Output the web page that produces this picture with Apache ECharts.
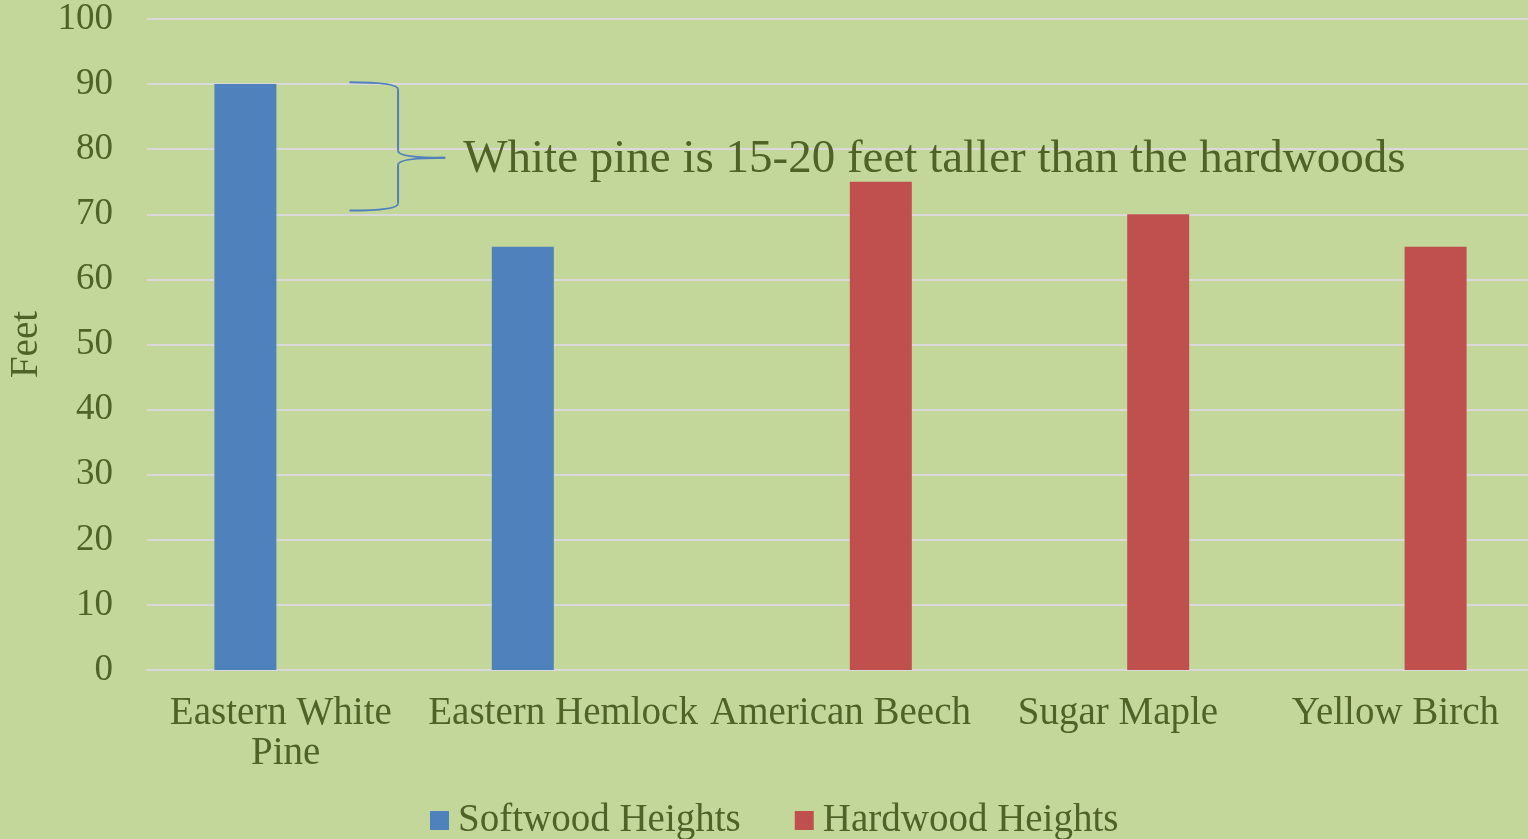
<!DOCTYPE html>
<html>
<head>
<meta charset="utf-8">
<script src="https://cdn.jsdelivr.net/npm/echarts@6/dist/echarts.min.js"></script>
<style>
  html, body { margin: 0; padding: 0; background: #c4d79b; }
  #main { width: 1528px; height: 839px; }
</style>
</head>
<body>
<div id="main"></div>
<script>
var categories = ['Eastern White Pine', 'Eastern Hemlock', 'American Beech', 'Sugar Maple', 'Yellow Birch'];
var softwood = [90, 65, null, null, null];
var hardwood = [null, null, 75, 70, 65];
var yTicks = [0, 10, 20, 30, 40, 50, 60, 70, 80, 90, 100];
var note = 'White pine is 15-20 feet taller than the hardwoods';

var textColor = '#4f6228';
var font = 'Liberation Serif';

var myChart = echarts.init(document.getElementById('main'));

var option = {
    backgroundColor: '#c4d79b',
    animation: false,
    textStyle: { fontFamily: font, color: textColor },
    grid: { left: 147, width: 1387, top: 19, bottom: 169, outerBoundsMode: 'none' },
    legend: {
        data: ['Softwood Heights', 'Hardwood Heights'],
        top: 796,
        left: 425,
        icon: 'rect',
        itemWidth: 19,
        itemHeight: 19,
        itemGap: 54,
        textStyle: { fontFamily: font, fontSize: 39, color: textColor, padding: [0, 0, 0, 4] }
    },
    xAxis: {
        type: 'category',
        data: categories,
        axisTick: { show: false },
        axisLine: { lineStyle: { color: '#d9d9d9', width: 2 } },
        axisLabel: {
            fontFamily: font, fontSize: 39, color: textColor,
            margin: 24, lineHeight: 40,
            width: 272, overflow: 'break', interval: 0
        }
    },
    yAxis: {
        type: 'value',
        min: yTicks[0],
        max: yTicks[yTicks.length - 1],
        interval: 10,
        name: 'Feet',
        nameLocation: 'middle',
        nameGap: 98,
        nameTextStyle: { fontFamily: font, fontSize: 39, color: textColor },
        axisLine: { show: false },
        axisTick: { show: false },
        axisLabel: { fontFamily: font, fontSize: 37, color: textColor, margin: 34 },
        splitLine: { lineStyle: { color: '#d9d9d9', width: 2 } }
    },
    series: [
        {
            name: 'Softwood Heights',
            type: 'bar',
            data: softwood,
            barWidth: 62,
            barGap: '30%',
            itemStyle: { color: '#4f81bd' }
        },
        {
            name: 'Hardwood Heights',
            type: 'bar',
            data: hardwood,
            barWidth: 62,
            itemStyle: { color: '#c0504d' }
        }
    ]
};

myChart.setOption(option);

// brace annotation next to the white pine bar
var c0 = myChart.convertToPixel({ gridIndex: 0 }, [0, 90]);
var c1 = myChart.convertToPixel({ gridIndex: 0 }, [1, 90]);
var step = c1[0] - c0[0];
var yTop = myChart.convertToPixel({ yAxisIndex: 0 }, 90.3);
var yBot = myChart.convertToPixel({ yAxisIndex: 0 }, 70.6);
var yTip = myChart.convertToPixel({ yAxisIndex: 0 }, 78.7);
var xL = c0[0] + 0.23 * step;
var xV = c0[0] + 0.405 * step;
var xT = c0[0] + 0.575 * step;
var r = 7;

var braceStyle = { stroke: '#4f81bd', lineWidth: 2, fill: null };

function curve(x1, y1, cx, cy, x2, y2) {
    return { type: 'bezierCurve', shape: { x1: x1, y1: y1, cpx1: cx, cpy1: cy, x2: x2, y2: y2 }, style: braceStyle };
}
function seg(x1, y1, x2, y2) {
    return { type: 'line', shape: { x1: x1, y1: y1, x2: x2, y2: y2 }, style: braceStyle };
}

myChart.setOption({
    graphic: [
        curve(xL, yTop, xV, yTop, xV, yTop + r),
        seg(xV, yTop + r, xV, yTip - r),
        curve(xV, yTip - r, xV, yTip, xT, yTip),
        curve(xT, yTip, xV, yTip, xV, yTip + r),
        seg(xV, yTip + r, xV, yBot - r),
        curve(xV, yBot - r, xV, yBot, xL, yBot),
        {
            type: 'text',
            x: xT + 18,
            y: yTip + 2,
            style: {
                text: note,
                font: '47px "Liberation Serif"',
                fill: textColor,
                verticalAlign: 'middle'
            }
        }
    ]
});
</script>
</body>
</html>
